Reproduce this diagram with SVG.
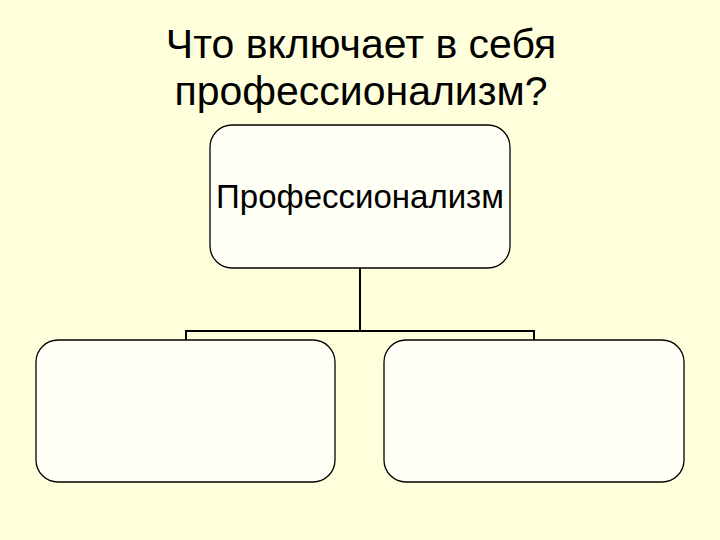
<svg xmlns="http://www.w3.org/2000/svg" width="720" height="540" viewBox="0 0 720 540">
<style>
.bg{fill:#FFFFDB}
.box{fill:#FFFFF5;stroke:#000;stroke-width:1.3}
.conn{fill:none;stroke:#000;stroke-width:2}
.title{font-family:"Liberation Sans",Arial,sans-serif;font-size:41px;fill:#000;text-anchor:middle}
.lbl{font-family:"Liberation Sans",Arial,sans-serif;font-size:33px;fill:#000;text-anchor:middle}
</style>
<rect class="bg" x="0" y="0" width="720" height="540"/>
<g id="title">
<text class="title" x="361" y="58">Что включает в себя</text>
<text class="title" x="361" y="105">профессионализм?</text>
</g>
<g id="connectors">
<path class="conn" d="M360 268 V331"/>
<path class="conn" d="M186 340 V331 H534 V340"/>
</g>
<g id="node-root">
<rect class="box" x="210" y="125" width="300" height="143" rx="22"/>
<text class="lbl" x="360" y="208">Профессионализм</text>
</g>
<g id="node-left">
<rect class="box" x="36" y="340" width="299" height="142" rx="22"/>
</g>
<g id="node-right">
<rect class="box" x="384" y="340" width="300" height="142" rx="22"/>
</g>
</svg>
